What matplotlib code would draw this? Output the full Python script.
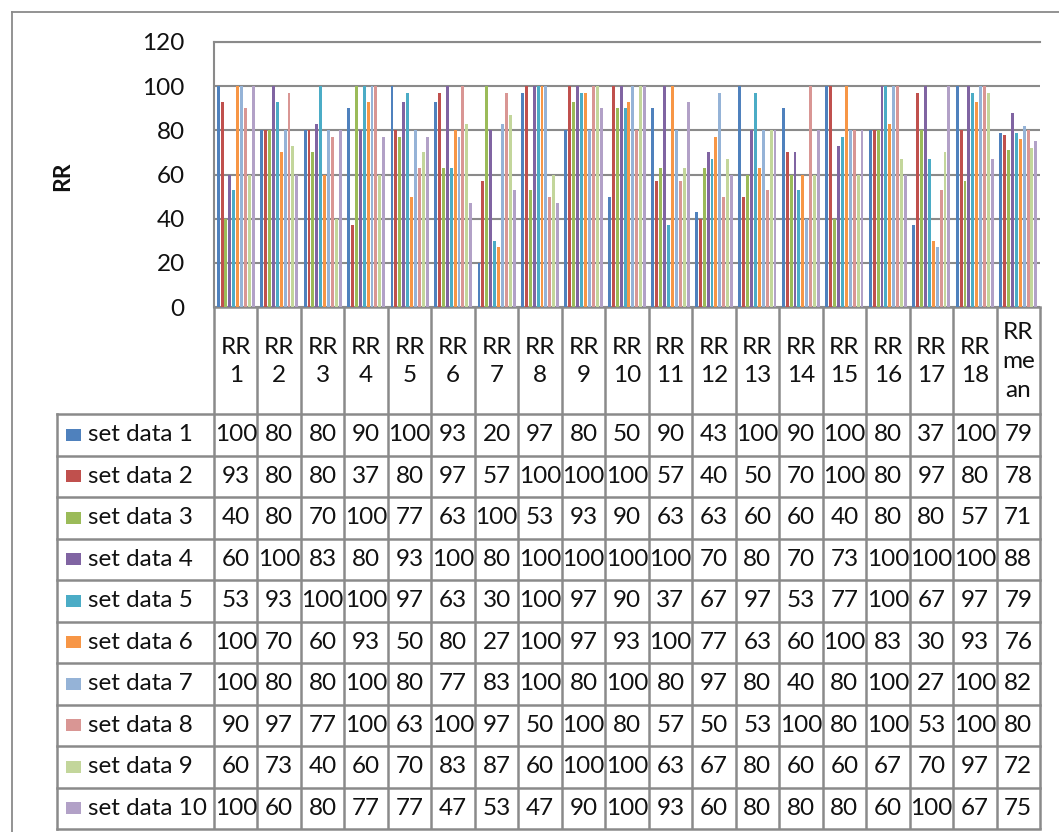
import matplotlib
matplotlib.use("Agg")
import matplotlib.pyplot as plt
from matplotlib.patches import Rectangle

plt.rcParams['font.family'] = ['Lato', 'DejaVu Sans']

# ---- data -------------------------------------------------------------
categories = ["RR\n1", "RR\n2", "RR\n3", "RR\n4", "RR\n5", "RR\n6", "RR\n7",
              "RR\n8", "RR\n9", "RR\n10", "RR\n11", "RR\n12", "RR\n13",
              "RR\n14", "RR\n15", "RR\n16", "RR\n17", "RR\n18", "RR\nme\nan"]

series_names = ["set data 1", "set data 2", "set data 3", "set data 4",
                "set data 5", "set data 6", "set data 7", "set data 8",
                "set data 9", "set data 10"]

set_data_1 = [100, 80, 80, 90, 100, 93, 20, 97, 80, 50, 90, 43, 100, 90, 100, 80, 37, 100, 79]
set_data_2 = [93, 80, 80, 37, 80, 97, 57, 100, 100, 100, 57, 40, 50, 70, 100, 80, 97, 80, 78]
set_data_3 = [40, 80, 70, 100, 77, 63, 100, 53, 93, 90, 63, 63, 60, 60, 40, 80, 80, 57, 71]
set_data_4 = [60, 100, 83, 80, 93, 100, 80, 100, 100, 100, 100, 70, 80, 70, 73, 100, 100, 100, 88]
set_data_5 = [53, 93, 100, 100, 97, 63, 30, 100, 97, 90, 37, 67, 97, 53, 77, 100, 67, 97, 79]
set_data_6 = [100, 70, 60, 93, 50, 80, 27, 100, 97, 93, 100, 77, 63, 60, 100, 83, 30, 93, 76]
set_data_7 = [100, 80, 80, 100, 80, 77, 83, 100, 80, 100, 80, 97, 80, 40, 80, 100, 27, 100, 82]
set_data_8 = [90, 97, 77, 100, 63, 100, 97, 50, 100, 80, 57, 50, 53, 100, 80, 100, 53, 100, 80]
set_data_9 = [60, 73, 40, 60, 70, 83, 87, 60, 100, 100, 63, 67, 80, 60, 60, 67, 70, 97, 72]
set_data_10 = [100, 60, 80, 77, 77, 47, 53, 47, 90, 100, 93, 60, 80, 80, 80, 60, 100, 67, 75]

series_values = [set_data_1, set_data_2, set_data_3, set_data_4, set_data_5,
                 set_data_6, set_data_7, set_data_8, set_data_9, set_data_10]

y_ticks = [0, 20, 40, 60, 80, 100, 120]

colors = ["#4F81BD", "#C0504D", "#9BBB59", "#8064A2", "#4BACC6",
          "#F79646", "#95B3D7", "#D99694", "#C3D69B", "#B2A1C7"]

# ---- figure layout (pixel based) --------------------------------------
W, H = 1059, 832
fig = plt.figure(figsize=(W / 100, H / 100), dpi=100)
fig.patch.set_facecolor("white")

GRID = "#8a8a8a"
TXT = "#111111"
FS = 17.5

plot_l, plot_r = 214, 1040
plot_t, plot_b = 42, 307
hdr_b = 414
row_h = 41.5
legend_l = 57

# overlay axes in pixel coordinates for frame and data table
ov = fig.add_axes([0, 0, 1, 1])
ov.set_xlim(0, W)
ov.set_ylim(H, 0)
ov.axis("off")
ov.set_zorder(0)

# outer chart frame
ov.plot([12, 12], [12, H], color=GRID, lw=1.3)
ov.plot([12, W], [12, 12], color=GRID, lw=1.3)

# ---- bar chart --------------------------------------------------------
ax = fig.add_axes([plot_l / W, 1 - plot_b / H,
                   (plot_r - plot_l) / W, (plot_b - plot_t) / H])
ax.set_zorder(1)
n_cat = len(categories)
n_ser = len(series_values)
slot = 0.09
bar_w = slot * 0.75
xs = list(range(n_cat))
for i, (vals, col) in enumerate(zip(series_values, colors)):
    offs = [x + (i - (n_ser - 1) / 2) * slot for x in xs]
    ax.bar(offs, vals, width=bar_w, color=col, linewidth=0, zorder=3)

ax.set_xlim(-0.5, n_cat - 0.5)
ax.set_ylim(0, 120)
ax.set_yticks(y_ticks)
ax.set_yticklabels([str(v) for v in y_ticks], fontsize=FS, color=TXT)
ax.tick_params(axis="y", length=0, pad=21)
ax.set_xticks([])
ax.yaxis.grid(True, color=GRID, lw=1.5, zorder=0)
ax.set_axisbelow(True)
for side in ["right", "bottom"]:
    ax.spines[side].set_visible(False)
ax.spines["left"].set_color(GRID)
ax.spines["left"].set_linewidth(1.5)
ax.spines["top"].set_color(GRID)
ax.spines["top"].set_linewidth(1.5)

fig.text(63 / W, 1 - 176 / H, "RR", rotation=90, fontsize=16.5,
         fontweight="bold", color=TXT, ha="center", va="center")

# ---- data table below the chart ---------------------------------------
col_w = (plot_r - plot_l) / n_cat
col_edges = [plot_l + k * col_w for k in range(n_cat + 1)]
table_b = hdr_b + row_h * n_ser

# header cells
for x in col_edges:
    ov.plot([x, x], [plot_b, table_b], color=GRID, lw=1.8, solid_capstyle="butt")
ov.plot([plot_l, plot_r], [plot_b, plot_b], color=GRID, lw=1.8)
for k, lab in enumerate(categories):
    cx = plot_l + (k + 0.5) * col_w
    ov.text(cx, (plot_b + hdr_b) / 2 + 1, lab, ha="center", va="center",
            fontsize=FS, color=TXT, linespacing=1.45)

# body rows with legend keys
for r in range(n_ser + 1):
    y = hdr_b + r * row_h
    ov.plot([legend_l, plot_r], [y, y], color=GRID, lw=1.8)
ov.plot([legend_l, legend_l], [hdr_b, table_b], color=GRID, lw=1.8)

for r, (name, vals, col) in enumerate(zip(series_names, series_values, colors)):
    cy = hdr_b + (r + 0.5) * row_h
    ov.add_patch(Rectangle((66, cy - 6), 15, 12, facecolor=col, edgecolor="none"))
    ov.text(88, cy, name, ha="left", va="center", fontsize=FS, color=TXT)
    for k, v in enumerate(vals):
        cx = plot_l + (k + 0.5) * col_w
        ov.text(cx, cy, str(v), ha="center", va="center", fontsize=FS, color=TXT)

fig.savefig("out.png", dpi=100, facecolor="white")
